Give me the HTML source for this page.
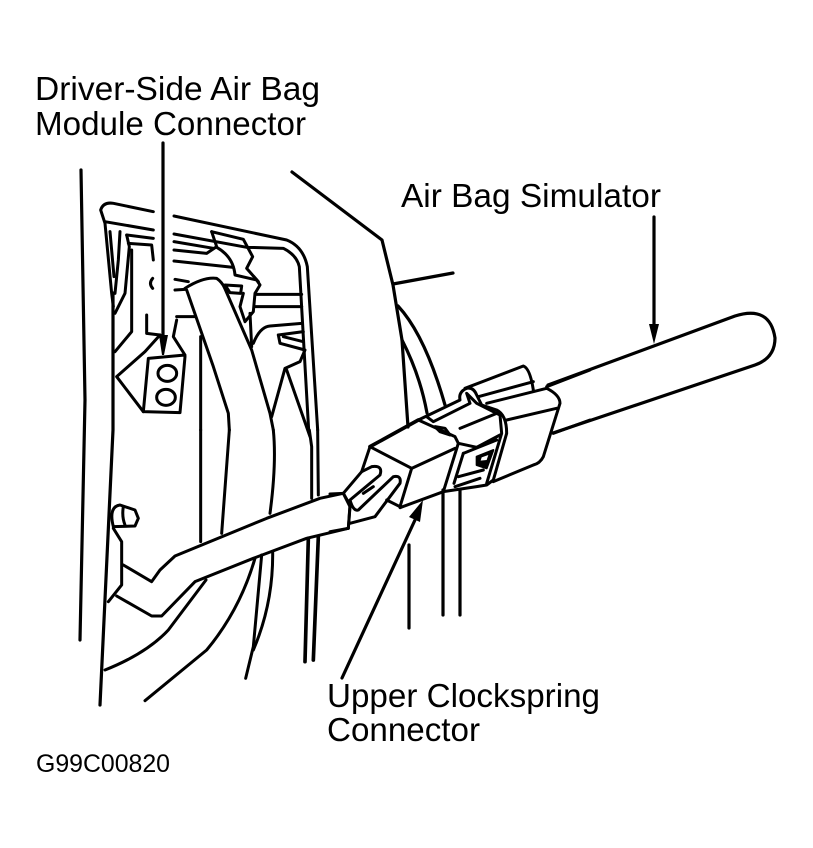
<!DOCTYPE html>
<html><head><meta charset="utf-8"><style>html,body{margin:0;padding:0;background:#fff}svg{display:block}text{font-family:"Liberation Sans",sans-serif;fill:#000}</style></head>
<body>
<svg width="813" height="848" viewBox="0 0 813 848" xmlns="http://www.w3.org/2000/svg">
<g font-size="33.3">
<text x="35" y="100" textLength="285" lengthAdjust="spacingAndGlyphs">Driver-Side Air Bag</text>
<text x="35" y="135" textLength="271" lengthAdjust="spacingAndGlyphs">Module Connector</text>
<text x="401" y="207" textLength="260" lengthAdjust="spacingAndGlyphs">Air Bag Simulator</text>
<text x="327" y="707" textLength="273" lengthAdjust="spacingAndGlyphs">Upper Clockspring</text>
<text x="327" y="741" textLength="153" lengthAdjust="spacingAndGlyphs">Connector</text>
</g>
<text x="36" y="772" font-size="24.9" textLength="134" lengthAdjust="spacingAndGlyphs">G99C00820</text>

<g fill="none" stroke="#000" stroke-width="3.2" stroke-linejoin="round" stroke-linecap="round">
<path d="M81 170 L85 400 L80 640"/>
<path d="M113 293 L113 430 L100 705"/>
<path d="M292 172 L382 240 L393 285 L402 340 L408 427"/>
<path d="M393 284 L453 273"/>
<path d="M398 306 Q425 335 445 405"/>
<path d="M402 340 Q420 375 427 413"/>
<path d="M409 545 V628"/>
<path d="M443 490 V615"/>
<path d="M460 490 V615"/>
<path d="M163 143 V340"/>
<path d="M654 217 V330"/>
<path d="M342 678 L415 520"/>
<path d="M548 385 L735 316 Q770 305 775 338 Q775 358 755 365 L553 433"/>
</g>
<g fill="#000">
<path d="M159 335 L168 335 L164 355 L162 355 Z"/>
<path d="M649 324 L659 324 L654 344 Z"/>
<path d="M423 500 L420 522 L409 517 Z"/>
</g>

<g transform="translate(70,160) scale(.33333)" fill="none" stroke="#000" stroke-width="9" stroke-linejoin="round" stroke-linecap="round">
<path d="M105 190 L92 150 Q100 125 130 130 L250 155"/>
<path d="M312 168 L650 240 Q700 260 712 320 L743 810"/>
<path d="M105 185 L250 210"/>
<path d="M312 222 L530 262 L640 265 Q680 285 688 320 L716 810"/>
<path d="M170 225 L250 235"/>
<path d="M312 245 L430 265"/>
<path d="M425 215 L520 238 L548 290 L530 325 L565 365"/>
<path d="M425 215 L440 260 L410 280 L312 270"/>
<path d="M440 262 Q490 290 495 345 L560 360 L570 375 L555 400 L550 455 L525 485 L510 440 L520 400"/>
<path d="M465 375 L515 378 L512 400 L480 398 Z"/>
<path d="M312 303 L490 322"/>
<path d="M315 358 L355 365"/>
<path d="M315 390 L345 388"/>
<path d="M560 403 L695 403"/>
<path d="M555 440 L695 440"/>
<path d="M345 385 Q400 350 440 355 Q455 365 465 385"/>
<path d="M460 375 L545 570 L600 760 L610 810"/>
<path d="M350 390 L430 620 L475 760 L478 810"/>
<path d="M392 530 V810"/>
<path d="M320 470 L375 470"/>
<path d="M230 465 L230 520 L270 525"/>
<path d="M320 480 L310 530 L345 585 L235 595 L220 755 L330 758 L345 590"/>
<path d="M270 525 L225 575 L140 650 L220 755"/>
<path d="M105 190 L125 400 L130 440"/>
<path d="M120 215 L132 350"/>
<path d="M150 215 L145 300 L135 400"/>
<path d="M170 225 L178 260 L165 400 L135 460"/>
<path d="M175 250 L245 255 L250 300"/>
<path d="M185 270 L185 515 L135 575"/>
<path d="M248 355 Q235 370 248 385"/>
<ellipse cx="292" cy="640" rx="28" ry="24"/>
<ellipse cx="288" cy="712" rx="28" ry="24"/>
<path d="M550 550 Q570 500 600 498 L695 490"/>
<path d="M625 525 L700 515"/>
<path d="M625 525 L630 550 L705 570 L690 605 L645 625 L605 770"/>
<path d="M650 630 L720 830"/>
<path d="M640 530 L700 545"/>
<path d="M545 560 L540 460"/>
</g>

<g transform="translate(80,430) scale(.33333)" fill="none" stroke="#000" stroke-width="9" stroke-linejoin="round" stroke-linecap="round">
<path d="M790 190 L720 205 L560 265 L285 378 L240 420 L215 455 L130 405"/>
<path d="M805 295 L680 325 L520 385 L345 455 L245 558 L215 558 L110 498"/>
<path d="M790 190 L810 225 L805 295"/>
<path d="M100 290 Q85 230 120 225 L165 240 L175 265 L165 288 L100 290"/>
<path d="M130 230 Q125 260 135 285"/>
<path d="M100 295 L125 335 L125 465 L85 515"/>
<path d="M362 0 V335"/>
<path d="M448 0 L425 310"/>
<path d="M580 0 Q590 100 570 250"/>
<path d="M688 0 L695 50 L695 205"/>
<path d="M713 0 L715 195"/>
<path d="M685 325 L675 695" stroke-width="11"/>
<path d="M715 320 L700 690" stroke-width="11"/>
<path d="M378 450 L265 600 Q200 670 75 720"/>
<path d="M525 385 Q480 540 380 660 L195 812"/>
<path d="M545 375 L520 650 L497 745"/>
<path d="M578 365 Q580 520 520 660"/>
</g>

<g transform="translate(330,340) scale(.33333)" fill="none" stroke="#000" stroke-width="9" stroke-linejoin="round" stroke-linecap="round">
<path d="M120 320 L265 240" stroke-width="11"/>
<path d="M120 320 L245 385 L375 325"/>
<path d="M245 385 L210 500 L170 480"/>
<path d="M120 320 L95 395"/>
<path d="M210 503 L340 455"/>
<path d="M40 460 L95 395 L125 380 Q160 375 150 405 L60 480 Q70 515 85 510 L190 410 Q215 405 210 430 L135 530 L60 550"/>
<path d="M40 460 L60 500 L55 565 L0 575"/>
<path d="M0 462 L40 460"/>
<path d="M100 460 L130 440"/>
<path d="M265 240 L390 180 Q385 155 410 145 Q430 140 440 165 L455 195 L500 210 Q530 225 530 280 L490 420 L470 435 L440 440 L340 455 L385 310 L375 290 L265 240"/>
<path d="M290 230 L310 245 L420 190 L410 160 L440 190 L510 225 L515 280 L470 430"/>
<path d="M315 260 L345 265 L360 285 L330 275 Z"/>
<path d="M390 265 L500 220"/>
<path d="M385 310 L440 322 L510 285"/>
<path d="M405 145 L580 78 Q600 85 610 150"/>
<path d="M445 170 L610 125"/>
<path d="M470 190 L650 145 Q690 165 690 190 L640 350 Q630 370 610 375 L490 425"/>
<path d="M530 240 L680 205"/>
<path d="M650 140 L780 90"/>
<path d="M670 280 L780 240"/>
<path d="M385 410 L460 390"/>
<path d="M375 440 L450 415"/>
<path d="M400 340 L500 300"/>
<path d="M400 340 L372 430"/>
<path d="M440 350 L490 330 L470 385 L440 375 Z" fill="#000" stroke-width="6"/>
<path d="M455 352 L475 345 L470 360 L452 362 Z" fill="#fff" stroke="none"/>
</g>
</svg>
</body></html>
